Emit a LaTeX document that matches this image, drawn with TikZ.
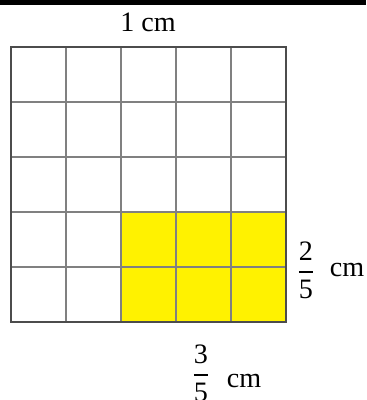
\documentclass[tikz,border=0pt]{standalone}
\usepackage{amsmath}
\usepackage{fontspec}
\setmainfont{Liberation Serif}

\begin{document}
\begin{tikzpicture}[x=0.0125cm, y=-0.0125cm]
    % --- Canvas (pixel units, y down) ---
    \useasboundingbox (0,0) rectangle (366,400);
    \clip (0,0) rectangle (366,400);
    \fill[white] (0,0) rectangle (366,400);
    \fill[black] (0,0) rectangle (366,5);

    % --- Key Coordinates ---
    \coordinate (TopLeft) at (11,47);
    \coordinate (BotRight) at (286,322);
    \coordinate (ShadeCorner) at (121,212);

    % --- 1. Shaded part: 3/5 by 2/5 ---
    \fill[yellow] (ShadeCorner) rectangle (BotRight);

    % --- 2. Grid of 5 x 5 small squares ---
    \foreach \k in {1,...,4} {
        \draw[black!50, line width=0.55pt] (11+55*\k, 47) -- (11+55*\k, 322);
        \draw[black!50, line width=0.55pt] (11, 47+55*\k) -- (286, 47+55*\k);
    }
    \draw[black!70, line width=0.9pt] (TopLeft) rectangle (BotRight);

    % --- 3. Side labels ---
    \node (sidetop) at (148,22) {1 cm};
    \node (fracright) at (306,270) {$\dfrac{\mbox{2}}{\mbox{5}}$};
    \node (unitright) at (347,270) {cm};
    \node (fracbottom) at (201,373) {$\dfrac{\mbox{3}}{\mbox{5}}$};
    \node (unitbottom) at (244,381) {cm};
\end{tikzpicture}
\end{document}
